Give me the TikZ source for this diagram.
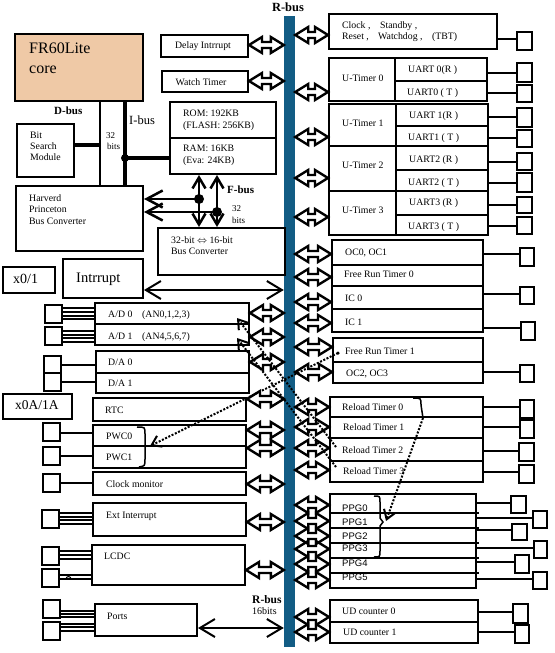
\documentclass[tikz,border=0pt]{standalone}
\usepackage{fontspec}
\setmainfont{Liberation Serif}
\newfontfamily\sansf{Liberation Sans}
\usetikzlibrary{fit,arrows.meta,calc}
\definecolor{busblue}{RGB}{18,92,132}
\definecolor{corefill}{RGB}{239,201,166}
\newcommand\fs[1]{\fontsize{#1}{#1}\selectfont}
\newcommand\bx[6][box]{\node[#1, fit={(#3,#4) (#5,#6)}] (#2) {};}
\newcommand\DAr[3]{%
  \path (#1 |- 0,#3) coordinate (da1) (#2 |- 0,#3) coordinate (da2);
  \draw[dar] (da1) -- ++(13,-8) -- ++(0,5) -- ($(da2)+(-13,-3)$) -- ++(0,-5) -- (da2)
     -- ++(-13,8) -- ++(0,-5) -- ($(da1)+(13,3)$) -- ++(0,5) -- cycle;}
\tikzset{
  box/.style={draw, line width=2pt, inner sep=0pt},
  corebox/.style={box, fill=corefill},
  busbar/.style={fill=busblue, inner sep=0pt},
  tx/.style={anchor=mid west, inner sep=0pt, font={\fs{9.8}}},
  ptx/.style={anchor=mid west, inner sep=0pt, font={\sansf\fs{9.5}}},
  wire/.style={line width=1.5pt},
  fwire/.style={line width=1.1pt},
  split/.style={line width=2pt},
  dar/.style={line width=2.4pt, line join=miter},
  sar/.style={line width=2pt, {Straight Barb[length=15pt,width=18pt]}-{Straight Barb[length=15pt,width=18pt]}},
  vbar/.style={line width=2.5pt, {Straight Barb[length=11pt,width=13pt]}-{Straight Barb[length=11pt,width=13pt]}},
  hbar/.style={line width=2.5pt, -{Straight Barb[length=16pt,width=17pt]}},
  dotln/.style={line width=2pt, dash pattern=on 2pt off 1.6pt},
  dtip/.style={-{Straight Barb[length=9pt,width=12pt]}},
  brk/.style={line width=1.5pt},
  bdot/.style={circle, fill, inner sep=0pt, minimum size=#1},
}
\begin{document}
\begin{tikzpicture}[x=1pt,y=-1pt]
\useasboundingbox (0,0) rectangle (554,653);
% ---------- R-bus
\node[busbar, fit={(284,16) (295,647)}] (rbus) {};
\node[font={\bfseries\fs{12.5}}, inner sep=0pt] (rbt) at (288,7) {R-bus};
\node[anchor=mid west, inner sep=0pt, font={\bfseries\fs{11.5}}] (rbb) at (252,601) {R-bus};
\node[tx, font={\fs{10}}] (rbb2) at (252,612) {16bits};

% ---------- core area
\bx[corebox]{core}{15}{34}{143}{101}
\node[anchor=mid west, inner sep=0pt, font={\fs{16}}] at (29,51) {FR60Lite};
\node[anchor=mid west, inner sep=0pt, font={\fs{16}}] at (29,71) {core};
\node[anchor=mid west, inner sep=0pt, font={\bfseries\fs{11}}] (dbl) at (54,112) {D-bus};
\node[anchor=mid west, inner sep=0pt, font={\fs{12.5}}] (ibl) at (129,122) {I-bus};
\node[tx, font={\fs{9}}] at (106,136) {32};
\node[tx, font={\fs{9}}] at (107,147) {bits};

\bx{bsm}{17}{124}{74}{177}
\node[tx] at (30,136) {Bit};
\node[tx] at (30,147) {Search};
\node[tx] at (30,158) {Module};

\bx{harv}{16}{186}{143}{251}
\node[tx] at (29,199) {Harverd};
\node[tx] at (29,210) {Princeton};
\node[tx] at (29,222) {Bus Converter};

\bx{dly}{161}{35}{248}{57}
\node[inner sep=0pt, font={\fs{9.8}}] at (203,46) {Delay Intrrupt};
\bx{wt}{162}{71}{248}{92}
\node[inner sep=0pt, font={\fs{9.8}}] at (201,82) {Watch Timer};

\bx{mem}{170}{102}{276}{174}
\draw[split] (mem.west |- 0,138) -- (mem.east |- 0,138);
\node[tx] at (183,114) {ROM: 192KB};
\node[tx] at (183,126) {(FLASH: 256KB)};
\node[tx] at (183,149) {RAM: 16KB};
\node[tx] at (183,161) {(Eva: 24KB)};

\bx{conv}{158}{228}{285}{275}
\node[tx] at (171,241) {32-bit $\Leftrightarrow$ 16-bit};
\node[tx] at (171,252) {Bus Converter};

% D-bus / I-bus
\draw[line width=2pt] (100,0 |- core.south) -- (100,0 |- harv.north);
\draw[line width=3.5pt] (125,0 |- core.south) -- (125,0 |- harv.north);
\draw[line width=3.5pt] (bsm.east |- 0,145) -- (100,145);
\node[bdot=8pt] (idot) at (125,158) {};
\draw[line width=3.5pt] (idot.center) -- (idot.center -| mem.west);

% F-bus
\draw[vbar] (199,0 |- mem.south) -- (199,0 |- conv.north);
\draw[vbar] (217,0 |- mem.south) -- (217,0 |- conv.north);
\node[bdot=10pt] (fd1) at (199,199) {};
\node[bdot=10pt] (fd2) at (217,212) {};
\draw[hbar] (fd1.center) -- (fd1.center -| harv.east);
\draw[hbar] (fd2.center) -- (fd2.center -| harv.east);
\node[anchor=mid west, inner sep=0pt, font={\bfseries\fs{11}}] at (227,191) {F-bus};
\node[tx, font={\fs{9}}] at (232,209) {32};
\node[tx, font={\fs{9}}] at (232,221) {bits};

% ---------- left peripherals
\bx{x01}{3}{267}{55}{293}
\node[anchor=mid west, inner sep=0pt, font={\fs{14}}] at (13,281) {x0/1};
\bx{intr}{63}{259}{143}{298}
\node[anchor=mid west, inner sep=0pt, font={\fs{14.5}}] at (76,280) {Intrrupt};
\draw[sar] (intr.east |- 0,290) -- (rbus.west |- 0,290);

\bx{ad}{95}{303}{249}{345}
\draw[split] (ad.west |- 0,324) -- (ad.east |- 0,324);
\node[tx] at (108,315) {A/D 0};
\node[tx] at (142,315) {(AN0,1,2,3)};
\node[tx] at (108,337) {A/D 1};
\node[tx] at (142,337) {(AN4,5,6,7)};
\bx{sad0}{45}{305}{62}{323}
\bx{sad1}{45}{327}{62}{345}
\foreach \yy in {308,312,316,319} \draw[fwire] (sad0.east |- 0,\yy) -- (ad.west |- 0,\yy);
\foreach \yy in {331,335,338,342} \draw[fwire] (sad1.east |- 0,\yy) -- (ad.west |- 0,\yy);

\bx{da}{96}{351}{249}{393}
\draw[split] (da.west |- 0,373) -- (da.east |- 0,373);
\node[tx] at (108,363) {D/A 0};
\node[tx] at (108,384) {D/A 1};
\bx{sda0}{44}{356}{61}{373}
\bx{sda1}{44}{373}{61}{391}
\draw[wire] (sda0.east |- 0,365) -- (da.west |- 0,365);
\draw[wire] (sda1.east |- 0,382) -- (da.west |- 0,382);

\bx{x0a}{3}{394}{72}{419}
\node[anchor=mid west, inner sep=0pt, font={\fs{13.5}}] at (15,407) {x0A/1A};

\bx{rtc}{93}{398}{246}{421}
\node[tx] at (105,411) {RTC};

\bx{pwc}{93}{425}{246}{468}
\draw[split] (pwc.west |- 0,446) -- (pwc.east |- 0,446);
\node[tx] at (106,437) {PWC0};
\node[tx] at (106,458) {PWC1};
\bx{spw0}{43}{423}{60}{441}
\bx{spw1}{43}{447}{60}{465}
\draw[wire] (spw0.east |- 0,433) -- (pwc.west |- 0,433);
\draw[wire] (spw1.east |- 0,456) -- (pwc.west |- 0,456);

\bx{clk}{93}{472}{246}{495}
\node[tx] at (106,485) {Clock monitor};
\bx{sck}{43}{474}{60}{492}
\draw[wire] (sck.east |- 0,483) -- (clk.west |- 0,483);

\bx{ext}{93}{503}{246}{536}
\node[tx] at (106,516) {Ext Interrupt};
\bx{sex}{42}{510}{59}{528}
\foreach \yy in {513,517,520,524} \draw[fwire] (sex.east |- 0,\yy) -- (ext.west |- 0,\yy);

\bx{lcdc}{92}{545}{245}{585}
\node[tx] at (104,557) {LCDC};
\bx{slc0}{42}{547}{59}{565}
\bx{slc1}{42}{569}{59}{587}
\foreach \yy in {551,555,559} \draw[fwire] (slc0.east |- 0,\yy) -- (lcdc.west |- 0,\yy);
\foreach \yy in {575,579} \draw[fwire] (slc1.east |- 0,\yy) -- (lcdc.west |- 0,\yy);
\draw[line width=1pt] (66,579) arc (180:360:2.5);

\bx{ports}{95}{604}{197}{636}
\node[tx] at (107,617) {Ports};
\bx{spt0}{43}{600}{60}{618}
\bx{spt1}{43}{622}{60}{640}
\foreach \yy in {611,614,617} \draw[fwire] (spt0.east |- 0,\yy) -- (ports.west |- 0,\yy);
\foreach \yy in {624,627,631} \draw[fwire] (spt1.east |- 0,\yy) -- (ports.west |- 0,\yy);
\draw[sar] (ports.east |- 0,628) -- (rbus.west |- 0,628);

% left double arrows
\DAr{dly.east}{rbus.west}{45}
\DAr{wt.east}{rbus.west}{81}
\DAr{ad.east}{rbus.west}{313}
\DAr{ad.east}{rbus.west}{337}
\DAr{da.east}{rbus.west}{362}
\DAr{rtc.east}{rbus.west}{399}
\DAr{pwc.east}{rbus.west}{430}
\DAr{pwc.east}{rbus.west}{448}
\DAr{clk.east}{rbus.west}{484}
\DAr{ext.east}{rbus.west}{522}
\DAr{lcdc.east}{rbus.west}{570}

% ---------- right peripherals
\bx{clkb}{329}{14}{497}{49}
\node[tx] at (342,26) {Clock ,};
\node[tx] at (380,26) {Standby ,};
\node[tx] at (342,37) {Reset ,};
\node[tx] at (378,37) {Watchdog ,};
\node[tx] at (432,37) {(TBT)};
\bx{scl}{517}{32}{532}{50}
\draw[wire] (clkb.east |- 0,39) -- (scl.west |- 0,39);

\bx{ut0}{329}{58}{487}{101}
\draw[split] (395,0 |- ut0.north) -- (395,0 |- ut0.south);
\draw[split] (395,81) -- (ut0.east |- 0,81);
\bx{ut1}{329}{104}{488}{146}
\draw[split] (396,0 |- ut1.north) -- (396,0 |- ut1.south);
\draw[split] (396,126) -- (ut1.east |- 0,126);
\bx{ut2}{329}{146}{488}{191}
\draw[split] (396,0 |- ut2.north) -- (396,0 |- ut2.south);
\draw[split] (396,170) -- (ut2.east |- 0,170);
\bx{ut3}{329}{191}{488}{235}
\draw[split] (396,0 |- ut3.north) -- (396,0 |- ut3.south);
\draw[split] (396,215) -- (ut3.east |- 0,215);
\node[tx] at (342,79) {U-Timer 0};
\node[tx] at (342,124) {U-Timer 1};
\node[tx] at (342,166) {U-Timer 2};
\node[tx] at (342,211) {U-Timer 3};
\node[tx] at (408,70) {UART 0(R )};
\node[tx] at (407,93) {UART0 ( T )};
\node[tx] at (409,116) {UART 1(R )};
\node[tx] at (408,138) {UART1 ( T )};
\node[tx] at (409,160) {UART2 (R )};
\node[tx] at (408,183) {UART2 ( T )};
\node[tx] at (409,203) {UART3 (R )};
\node[tx] at (408,227) {UART3 ( T )};
\bx{su0r}{517}{63}{532}{82}
\bx{su0t}{517}{85}{532}{102}
\bx{su1r}{517}{108}{532}{127}
\bx{su1t}{517}{130}{532}{147}
\bx{su2r}{517}{153}{532}{170}
\bx{su2t}{517}{173}{532}{192}
\bx{su3r}{517}{197}{532}{213}
\bx{su3t}{517}{217}{532}{234}
\draw[wire] (ut0.east |- 0,73) -- (su0r.west |- 0,73);
\draw[wire] (ut0.east |- 0,93) -- (su0t.west |- 0,93);
\draw[wire] (ut1.east |- 0,117) -- (su1r.west |- 0,117);
\draw[wire] (ut1.east |- 0,138) -- (su1t.west |- 0,138);
\draw[wire] (ut2.east |- 0,162) -- (su2r.west |- 0,162);
\draw[wire] (ut2.east |- 0,183) -- (su2t.west |- 0,183);
\draw[wire] (ut3.east |- 0,205) -- (su3r.west |- 0,205);
\draw[wire] (ut3.east |- 0,226) -- (su3t.west |- 0,226);

\bx{oc}{332}{240}{483}{332}
\draw[split] (oc.west |- 0,265) -- (oc.east |- 0,265);
\draw[line width=2.6pt] (oc.west |- 0,286) -- (oc.east |- 0,286);
\draw[split] (oc.west |- 0,309) -- (oc.east |- 0,309);
\node[tx] at (345,253) {OC0, OC1};
\node[tx] at (344,275) {Free Run Timer 0};
\node[tx] at (345,299) {IC 0};
\node[tx] at (345,323) {IC 1};
\bx{frt}{333}{338}{483}{383}
\draw[split] (frt.west |- 0,362) -- (frt.east |- 0,362);
\node[tx] at (345,352) {Free Run Timer 1};
\node[tx] at (346,374) {OC2, OC3};
\bx{soc0}{520}{248}{534}{266}
\bx{sic0}{520}{287}{534}{304}
\bx{sic1}{521}{322}{535}{340}
\bx{soc2}{520}{365}{534}{382}
\draw[wire] (oc.east |- 0,254) -- (soc0.west |- 0,254);
\draw[wire] (oc.east |- 0,294) -- (sic0.west |- 0,294);
\draw[wire] (oc.east |- 0,328) -- (sic1.west |- 0,328);
\draw[wire] (frt.east |- 0,372) -- (soc2.west |- 0,372);

\bx{rt}{330}{397}{483}{482}
\foreach \yy in {417,438,461} \draw[split] (rt.west |- 0,\yy) -- (rt.east |- 0,\yy);
\node[tx] at (342,408) {Reload Timer 0};
\node[tx] at (343,428) {Reload Timer 1};
\node[tx] at (342,451) {Reload Timer 2};
\node[tx] at (343,472) {Reload Timer 3};
\bx{srt0}{520}{400}{534}{418}
\bx{srt1}{520}{420}{534}{438}
\bx{srt2}{519}{443}{534}{461}
\bx{srt3}{519}{465}{534}{483}
\draw[wire] (rt.east |- 0,407) -- (srt0.west |- 0,407);
\draw[wire] (rt.east |- 0,427) -- (srt1.west |- 0,427);
\draw[wire] (rt.east |- 0,451) -- (srt2.west |- 0,451);
\draw[wire] (rt.east |- 0,472) -- (srt3.west |- 0,472);

\bx{ppg}{330}{494}{476}{588}
\foreach \yy in {513,528,543,558,573} \draw[split] (ppg.west |- 0,\yy) -- (479,\yy);
\node[ptx] at (342,509) {PPG0};
\node[ptx] at (342,523) {PPG1};
\node[ptx] at (342,537) {PPG2};
\node[ptx] at (342,549) {PPG3};
\node[ptx] at (342,564) {PPG4};
\node[ptx] at (342,578) {PPG5};
\bx{sp0}{511}{496}{526}{513}
\bx{sp1}{533}{511}{547}{528}
\bx{sp2}{512}{524}{527}{540}
\bx{sp3}{534}{541}{547}{558}
\bx{sp4}{515}{555}{529}{573}
\bx{sp5}{533}{572}{547}{589}
\draw[wire] (ppg.east |- 0,503) -- (sp0.west |- 0,503);
\draw[wire] (ppg.east |- 0,518) -- (sp1.west |- 0,518);
\draw[wire] (ppg.east |- 0,530) -- (sp2.west |- 0,530);
\draw[wire] (ppg.east |- 0,548) -- (sp3.west |- 0,548);
\draw[wire] (ppg.east |- 0,562) -- (sp4.west |- 0,562);
\draw[wire] (ppg.east |- 0,579) -- (sp5.west |- 0,579);

\bx{ud}{330}{600}{478}{643}
\draw[split] (ud.west |- 0,622) -- (ud.east |- 0,622);
\node[tx] at (342,612) {UD counter 0};
\node[tx] at (343,633) {UD counter 1};
\bx{sud0}{513}{604}{528}{623}
\bx{sud1}{515}{625}{529}{643}
\draw[wire] (ud.east |- 0,612) -- (sud0.west |- 0,612);
\draw[wire] (ud.east |- 0,632) -- (sud1.west |- 0,632);

% right double arrows
\DAr{rbus.east}{clkb.west}{35}
\DAr{rbus.east}{ut0.west}{92}
\DAr{rbus.east}{ut1.west}{137}
\DAr{rbus.east}{ut2.west}{178}
\DAr{rbus.east}{ut3.west}{217}
\foreach \yy in {254,277,302,323} {\DAr{rbus.east}{oc.west}{\yy}}
\foreach \yy in {347,372} {\DAr{rbus.east}{frt.west}{\yy}}
\foreach \yy in {407,427,448,470} {\DAr{rbus.east}{rt.west}{\yy}}
\foreach \yy in {505,521,536,549,564,580} {\DAr{rbus.east}{ppg.west}{\yy}}
\foreach \yy in {617,632} {\DAr{rbus.east}{ud.west}{\yy}}

% ---------- brackets and dotted links
\draw[brk] (137,427) .. controls (145,427) .. (145,434) -- (145,459) .. controls (145,466) .. (139,467);
\coordinate (pwcb) at (150,446);
\draw[brk] (374,496) .. controls (380,496) .. (380,502) -- (380,518) -- (383,522) -- (380,526) -- (380,551) .. controls (380,557) .. (374,557);
\coordinate (ppgb) at (386,521);
\draw[brk] (413,398) .. controls (421,398) .. (421,405) -- (423,418);
\coordinate (rtb) at (423,418);
\coordinate (frt1p) at (338,353);
\coordinate (rt2p) at (336,447);
\coordinate (rt3p) at (336,467);
\coordinate (ad0p) at (237,318);
\coordinate (ad1p) at (237,338);
\draw[dotln, dtip] (rtb) -- (ppgb);
\draw[dotln, dtip] (frt1p) -- (pwcb);
\draw[dotln, dtip] (rt2p) -- (ad0p);
\draw[dotln, dtip] (rt3p) -- (ad1p);
\node[bdot=3.5pt] at (frt1p) {};
\end{tikzpicture}
\end{document}
